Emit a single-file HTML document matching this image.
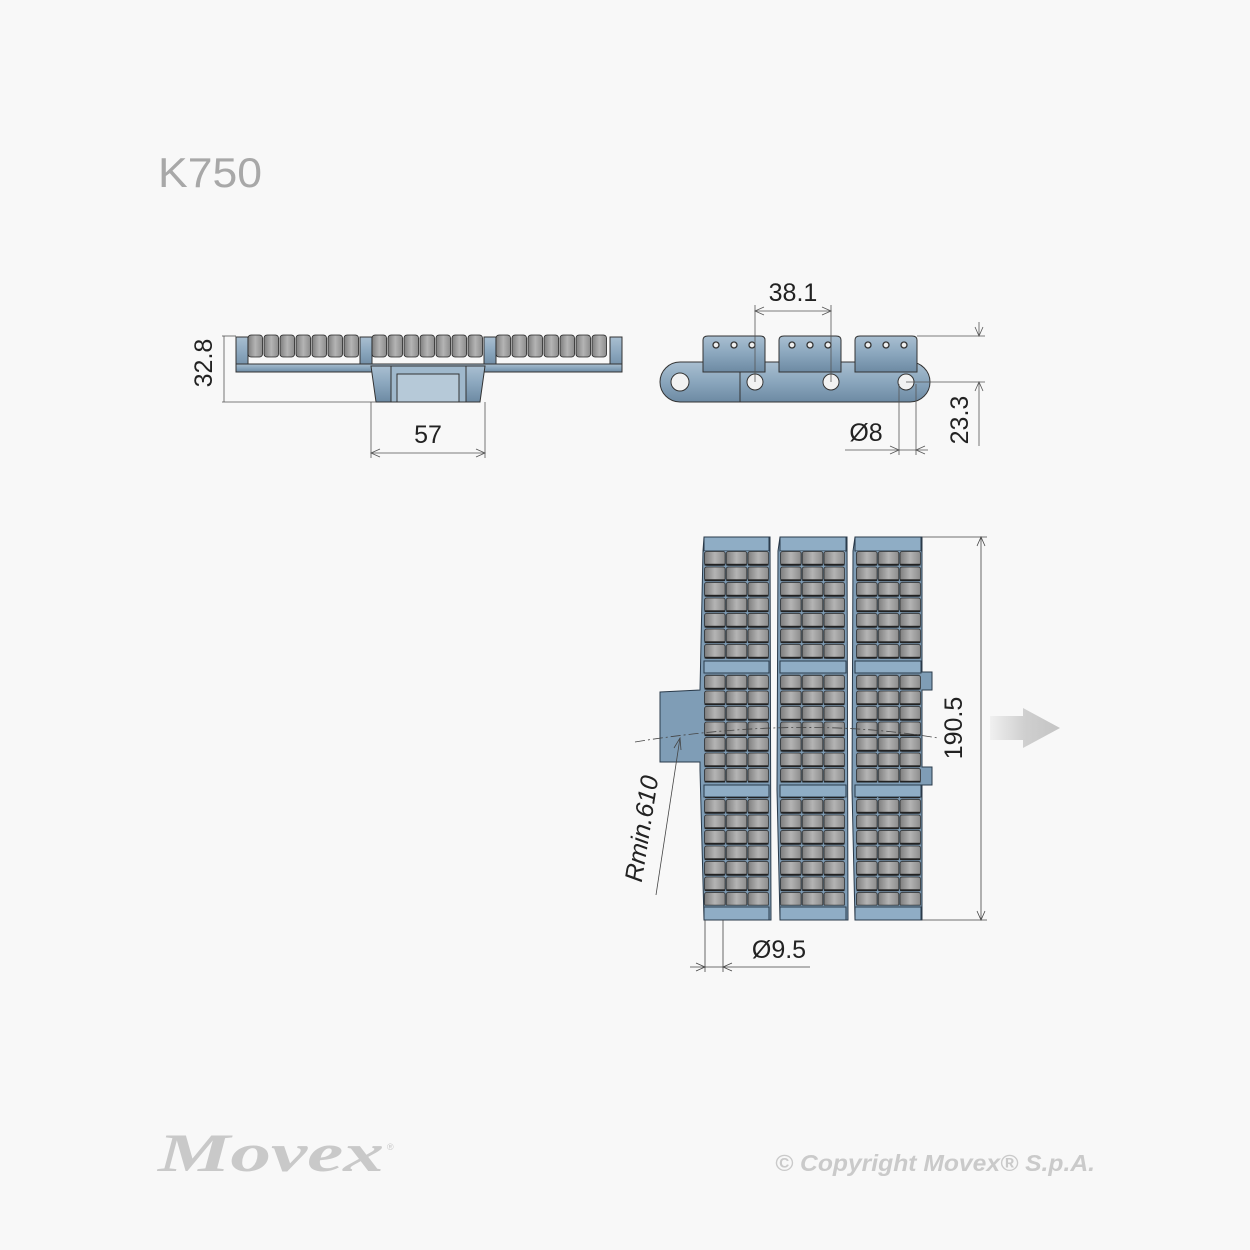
<!DOCTYPE html>
<html><head><meta charset="utf-8"><style>
html,body{margin:0;padding:0;background:#f8f8f8;}
svg{display:block}
text{font-family:"Liberation Sans",sans-serif;}
</style></head><body>
<svg width="1250" height="1250" viewBox="0 0 1250 1250" xmlns="http://www.w3.org/2000/svg">
<defs>
<linearGradient id="rg" x1="0" x2="1" y1="0" y2="0">
<stop offset="0" stop-color="#7e7e7e"/><stop offset="0.5" stop-color="#b4b4b4"/><stop offset="1" stop-color="#8c8c8c"/>
</linearGradient>
<linearGradient id="bl" x1="0" x2="0" y1="0" y2="1">
<stop offset="0" stop-color="#a9bfd1"/><stop offset="0.5" stop-color="#8aa6bd"/><stop offset="1" stop-color="#6d8aa3"/>
</linearGradient>
<linearGradient id="ar" x1="0" x2="1">
<stop offset="0" stop-color="#f0f0f0"/><stop offset="0.5" stop-color="#cfcfcf"/><stop offset="1" stop-color="#c4c4c4"/>
</linearGradient>
<pattern id="rol" patternUnits="userSpaceOnUse" width="21.7" height="15.5">
<rect width="21.7" height="15.5" fill="#7f9db6"/>
<rect x="0.6" y="0.5" width="20.5" height="13.8" rx="2" fill="url(#rg)" stroke="#2a2a2a" stroke-width="0.8"/>
<rect x="0.6" y="12.8" width="20.5" height="1.8" fill="#222"/>
</pattern>
</defs>

<text x="158" y="187" font-size="42" fill="#a8a8a8" textLength="104" lengthAdjust="spacingAndGlyphs">K750</text>

<!-- Side view left -->
<g stroke="#333" stroke-width="1">
<rect x="236" y="337" width="12" height="33" fill="url(#bl)"/>
<rect x="610" y="337" width="12" height="33" fill="url(#bl)"/>
<rect x="360" y="337" width="12" height="30" fill="url(#bl)"/>
<rect x="484" y="337" width="12" height="30" fill="url(#bl)"/>
<rect x="236" y="364" width="386" height="8" fill="url(#bl)"/>
<path d="M371 366 L485 366 L480 402 L376 402 Z" fill="url(#bl)"/>
<rect x="391" y="366" width="75" height="36" fill="#9fb8cc"/>
<rect x="397" y="374" width="62" height="28" fill="#b6c9d8"/>
</g>
<g stroke="#222" stroke-width="0.8">
<g id="r7">
<rect x="248" y="335" width="14.5" height="22" rx="3" fill="url(#rg)"/>
<rect x="264" y="335" width="14.5" height="22" rx="3" fill="url(#rg)"/>
<rect x="280" y="335" width="14.5" height="22" rx="3" fill="url(#rg)"/>
<rect x="296" y="335" width="14.5" height="22" rx="3" fill="url(#rg)"/>
<rect x="312" y="335" width="14.5" height="22" rx="3" fill="url(#rg)"/>
<rect x="328" y="335" width="14.5" height="22" rx="3" fill="url(#rg)"/>
<rect x="344" y="335" width="14.5" height="22" rx="3" fill="url(#rg)"/>
</g>
<use href="#r7" x="124"/><use href="#r7" x="248"/>
</g>
<g stroke="#555" stroke-width="0.8" fill="none">
<line x1="222" y1="336" x2="236" y2="336"/><line x1="222" y1="402" x2="376" y2="402"/>
<line x1="224" y1="336" x2="224" y2="402"/>
<line x1="371" y1="402" x2="371" y2="458"/><line x1="485" y1="402" x2="485" y2="458"/>
<line x1="371" y1="453" x2="485" y2="453"/>
<path d="M380 449 L371 453 L380 457 M476 449 L485 453 L476 457"/>
</g>
<text x="218" y="369" font-size="25" fill="#222" text-anchor="middle" transform="rotate(-90 212 369)">32.8</text>
<text x="428" y="443" font-size="25" fill="#222" text-anchor="middle">57</text>

<!-- Side view right -->
<g stroke="#333" stroke-width="1">
<path d="M680 362 L850 362 L850 402 L680 402 A20 20 0 0 1 680 362 Z" fill="url(#bl)"/>
<path d="M740 362 L910 362 A20 20 0 0 1 910 402 L740 402 Z" fill="url(#bl)"/>
<g fill="url(#bl)">
<path d="M703 340 Q703 336 708 336 L760 336 Q765 336 765 340 L765 372 L703 372 Z"/>
<path d="M779 340 Q779 336 784 336 L836 336 Q841 336 841 340 L841 372 L779 372 Z"/>
<path d="M855 340 Q855 336 860 336 L912 336 Q917 336 917 340 L917 372 L855 372 Z"/>
</g>
<g fill="#f2f2f2">
<circle cx="680" cy="382" r="9"/><circle cx="755" cy="382" r="8"/><circle cx="831" cy="382" r="8"/><circle cx="906" cy="382" r="8"/>
</g>
<g fill="#eee" stroke-width="1.3">
<circle cx="716" cy="345" r="3"/><circle cx="734" cy="345" r="3"/><circle cx="752" cy="345" r="3"/>
<circle cx="792" cy="345" r="3"/><circle cx="810" cy="345" r="3"/><circle cx="828" cy="345" r="3"/>
<circle cx="868" cy="345" r="3"/><circle cx="886" cy="345" r="3"/><circle cx="904" cy="345" r="3"/>
</g>
</g>
<g stroke="#555" stroke-width="0.8" fill="none">
<line x1="755" y1="305" x2="755" y2="382"/><line x1="831" y1="305" x2="831" y2="382"/>
<line x1="755" y1="311" x2="831" y2="311"/>
<path d="M764 307 L755 311 L764 315 M822 307 L831 311 L822 315"/>
<line x1="917" y1="336" x2="985" y2="336"/><line x1="906" y1="382" x2="985" y2="382"/>
<line x1="979" y1="322" x2="979" y2="336"/><line x1="979" y1="382" x2="979" y2="446"/>
<path d="M975 327 L979 336 L983 327 M975 391 L979 382 L983 391"/>
<line x1="899" y1="384" x2="899" y2="455"/><line x1="916" y1="384" x2="916" y2="455"/>
<line x1="845" y1="450" x2="928" y2="450"/>
<path d="M890 446 L899 450 L890 454 M925 446 L916 450 L925 454"/>
</g>
<text x="793" y="301" font-size="25" fill="#222" text-anchor="middle">38.1</text>
<text x="866" y="441" font-size="25" fill="#222" text-anchor="middle">Ø8</text>
<text x="968" y="420" font-size="25" fill="#222" text-anchor="middle" transform="rotate(-90 968 420)">23.3</text>

<!-- Plan view -->
<g stroke="#2a3a4a" stroke-width="1">
<path d="M660 692 L700 690 L703 551 L704 537 L770 537 L771 920 L704 920 L700 770 L700 762 L660 762 Z" fill="#7f9db6"/>
<path d="M778 551 L780 537 L847 537 L848 920 L780 920 L777 790 Z" fill="#7f9db6"/>
<path d="M853 551 L855 537 L922 537 L922 672 L932 672 L932 690 L922 690 L922 767 L932 767 L932 785 L922 785 L922 920 L855 920 L852 790 Z" fill="#7f9db6"/>
<g fill="#8fadc5">
<rect x="704" y="537" width="65" height="14"/><rect x="780" y="537" width="66" height="14"/><rect x="855" y="537" width="66" height="14"/>
<rect x="704" y="661" width="65" height="12"/><rect x="780" y="661" width="66" height="12"/><rect x="855" y="661" width="66" height="12"/>
<rect x="704" y="785" width="65" height="12"/><rect x="780" y="785" width="66" height="12"/><rect x="855" y="785" width="66" height="12"/>
<rect x="704" y="907" width="65" height="13"/><rect x="780" y="907" width="66" height="13"/><rect x="855" y="907" width="66" height="13"/>
</g>
</g>
<g>
<g transform="translate(704 551)"><rect width="65" height="108.5" fill="url(#rol)"/><rect y="123" width="65" height="108.5" fill="url(#rol)"/><rect y="246" width="65" height="108.5" fill="url(#rol)"/></g>
<g transform="translate(780 551)"><rect width="65" height="108.5" fill="url(#rol)"/><rect y="123" width="65" height="108.5" fill="url(#rol)"/><rect y="246" width="65" height="108.5" fill="url(#rol)"/></g>
<g transform="translate(856 551)"><rect width="65" height="108.5" fill="url(#rol)"/><rect y="123" width="65" height="108.5" fill="url(#rol)"/><rect y="246" width="65" height="108.5" fill="url(#rol)"/></g>
</g>
<g stroke="#444" stroke-width="0.8" fill="none">
<path d="M635 742 Q800 715 938 738" stroke-dasharray="10 3 2 3"/>
<line x1="922" y1="537" x2="987" y2="537"/><line x1="922" y1="920" x2="987" y2="920"/>
<line x1="981" y1="537" x2="981" y2="920"/>
<path d="M977 546 L981 537 L985 546 M977 911 L981 920 L985 911"/>
<line x1="705" y1="920" x2="705" y2="972"/><line x1="723" y1="920" x2="723" y2="972"/>
<line x1="690" y1="967" x2="810" y2="967"/>
<path d="M696 963 L705 967 L696 971 M732 963 L723 967 L732 971"/>
<line x1="656" y1="895" x2="680" y2="738"/>
<path d="M674 748 L680 738 L681 750"/>
</g>
<text x="962" y="728" font-size="25" fill="#222" text-anchor="middle" transform="rotate(-90 962 728)">190.5</text>
<text x="779" y="958" font-size="25" fill="#222" text-anchor="middle">Ø9.5</text>
<text x="650" y="830" font-size="25" fill="#222" font-style="italic" text-anchor="middle" transform="rotate(-81 650 830)">Rmin.610</text>
<path d="M990 716 L1023 716 L1023 708 L1060 728 L1023 748 L1023 740 L990 740 Z" fill="url(#ar)"/>

<!-- Footer -->
<text x="158" y="1171" font-size="54" font-weight="bold" font-style="italic" fill="#c9c9c9" style="font-family:'Liberation Serif',serif" textLength="226" lengthAdjust="spacingAndGlyphs">Movex</text>
<text x="387" y="1150" font-size="9" fill="#c9c9c9">®</text>
<text x="775" y="1171" font-size="23" font-weight="bold" font-style="italic" fill="#cacaca" textLength="320" lengthAdjust="spacingAndGlyphs">© Copyright Movex® S.p.A.</text>
</svg>
</body></html>
